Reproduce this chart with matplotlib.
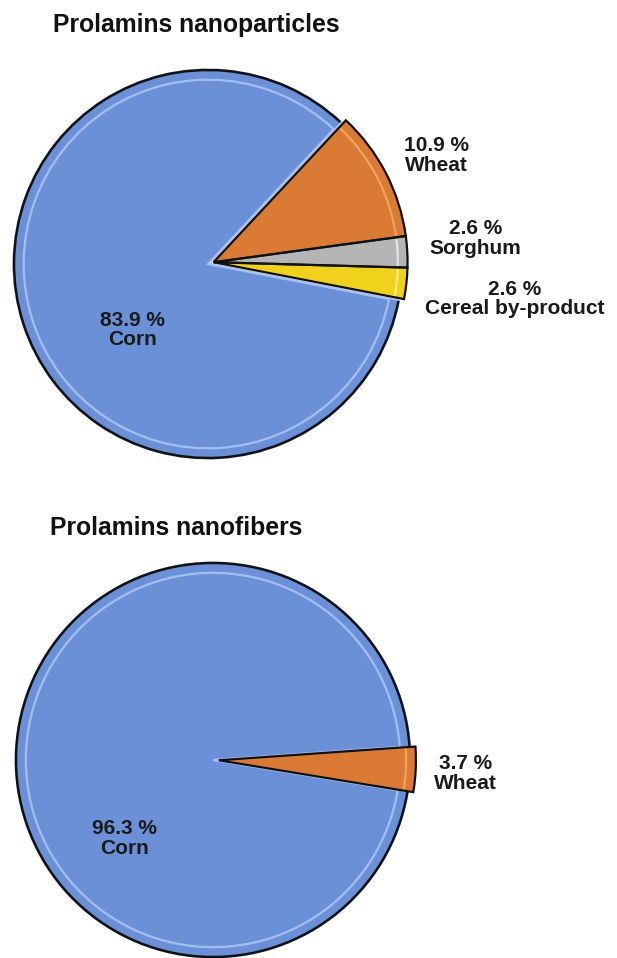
import numpy as np
import matplotlib
matplotlib.use("Agg")
import matplotlib.pyplot as plt
from matplotlib.patches import Arc

plt.rcParams['font.family'] = ['Liberation Sans', 'DejaVu Sans']

# Data
np_labels = ["Wheat", "Sorghum", "Cereal by-product", "Corn"]
np_values = [10.9, 2.6, 2.6, 83.9]
nf_labels = ["Wheat", "Corn"]
nf_values = [3.7, 96.3]

col_corn = "#6C90D8"
col_wheat = "#DA7A34"
col_sorghum = "#B5B5B5"
col_cereal = "#F0D21C"
bevel = {"#6C90D8": "#A9C4F4", "#DA7A34": "#F0A86A",
         "#B5B5B5": "#E6E6E6", "#F0D21C": "#FFF08A"}

W, H = 617, 958
fig = plt.figure(figsize=(W / 100, H / 100), dpi=100)
SPAN = 1.75


def pie_axes(cx, cy, R):
    """Axes whose data unit equals R pixels, with (0, 0) at pixel (cx, cy)."""
    left = (cx - SPAN * R) / W
    bottom = (H - cy - SPAN * R) / H
    return fig.add_axes([left, bottom, 2 * SPAN * R / W, 2 * SPAN * R / H])


def fix_limits(ax):
    ax.set_xlim(-SPAN, SPAN)
    ax.set_ylim(-SPAN, SPAN)
    ax.set_aspect("equal")
    ax.axis("off")


def beveled_pie(ax, values, colors, startangle, offsets, big):
    """Pie with a light inner bevel; the big slice gets a black rim only,
    the small ones a full black outline."""
    kw = dict(colors=colors, startangle=startangle, counterclock=False)
    wedges, _ = ax.pie(values, radius=1.0, wedgeprops=dict(linewidth=0), **kw)
    inner, _ = ax.pie(values, radius=0.95,
                      wedgeprops=dict(facecolor="none", linewidth=1.6), **kw)
    outer, _ = ax.pie(values, radius=1.0,
                      wedgeprops=dict(facecolor="none", edgecolor="#111111",
                                      linewidth=1.6), **kw)
    for grp, (dx, dy) in offsets:
        for i in grp:
            for w in (wedges[i], inner[i], outer[i]):
                w.set_center((dx, dy))
    for i, w in enumerate(inner):
        w.set_edgecolor(bevel[colors[i]])
        w.set_alpha(0.9)
    # big slice: light radial edges, black rim
    wb = outer[big]
    wb.set_edgecolor(bevel[colors[big]])
    wb.set_linewidth(2.2)
    wb.set_zorder(0.9)
    cx, cy = wb.center
    ax.add_patch(Arc((cx, cy), 2 * wb.r, 2 * wb.r, theta1=wb.theta1,
                     theta2=wb.theta2, color="#111111", linewidth=1.8,
                     zorder=3))
    fix_limits(ax)
    return wedges


def group_offset(values, idx, startangle, dist):
    total = sum(values)
    start = startangle - 360 * sum(values[:idx[0]]) / total
    end = start - 360 * sum(values[i] for i in idx) / total
    mid = np.deg2rad((start + end) / 2)
    return dist * np.cos(mid), dist * np.sin(mid)


lab_kw = dict(ha="center", va="center", fontsize=15, fontweight="bold",
              color="#1a1a1a", linespacing=1.05)

# Prolamins nanoparticles
ax1 = pie_axes(208, 264, 194)
start1 = 47
off_small = group_offset(np_values, [0, 1, 2], start1, 0.03)
beveled_pie(ax1, np_values, [col_wheat, col_sorghum, col_cereal, col_corn],
            start1, [([0, 1, 2], off_small)], big=3)
label_pos1 = [(1.18, 0.56), (1.38, 0.13), (1.58, -0.18), (-0.39, -0.34)]
for name, v, (tx, ty) in zip(np_labels, np_values, label_pos1):
    ax1.text(tx, ty, f"{v} %\n{name}", **lab_kw)

# Prolamins nanofibers
ax2 = pie_axes(213, 760, 197)
start2 = 4
off_wheat = group_offset(nf_values, [0], start2, 0.03)
beveled_pie(ax2, nf_values, [col_wheat, col_corn], start2,
            [([0], off_wheat)], big=1)
label_pos2 = [(1.28, -0.07), (-0.45, -0.40)]
for name, v, (tx, ty) in zip(nf_labels, nf_values, label_pos2):
    ax2.text(tx, ty, f"{v} %\n{name}", **lab_kw)

fig.text(53 / W, 1 - 25 / H, "Prolamins nanoparticles", ha="left", va="center",
         fontsize=17.8, fontweight="bold", color="#111111")
fig.text(50 / W, 1 - 528 / H, "Prolamins nanofibers", ha="left", va="center",
         fontsize=17.8, fontweight="bold", color="#111111")

fig.savefig("out.png", dpi=100, facecolor="white")
